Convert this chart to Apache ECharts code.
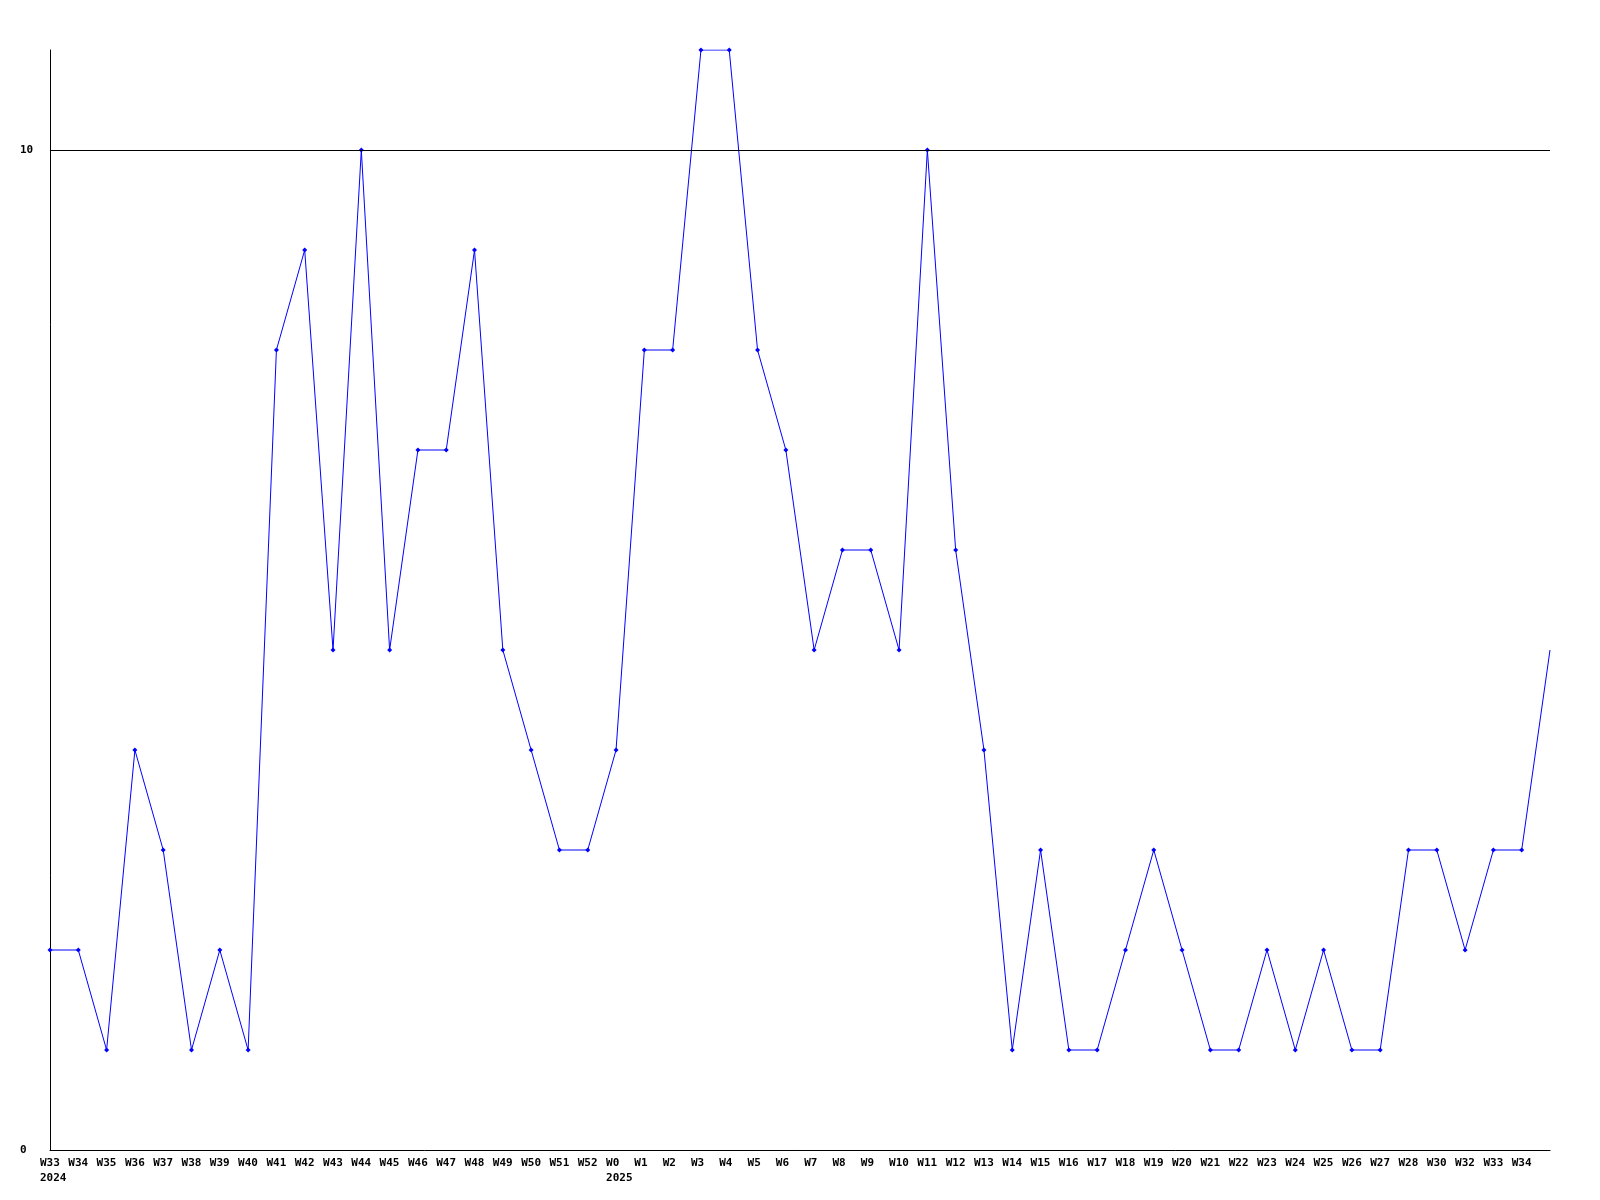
<!DOCTYPE html>
<html>
<head>
<meta charset="utf-8">
<script src="https://cdn.jsdelivr.net/npm/echarts@6/dist/echarts.min.js"></script>
<style>
html,body{margin:0;padding:0;background:#fff;}
#chart{width:1600px;height:1200px;}
</style>
</head>
<body>
<div id="chart"></div>
<script>
const weeks = ["W33","W34","W35","W36","W37","W38","W39","W40","W41","W42","W43","W44","W45","W46","W47","W48","W49","W50","W51","W52",
  "W0","W1","W2","W3","W4","W5","W6","W7","W8","W9","W10","W11","W12","W13","W14","W15","W16","W17","W18","W19","W20","W21","W22","W23","W24","W25","W26","W27","W28",
  "W30","W32","W33","W34",""];
const yearLabels = {0: "2024", 20: "2025"};
const values = [2,2,1,4,3,1,2,1,8,9,5,10,5,7,7,9,5,4,3,3,
  4,8,8,11,11,8,7,5,6,6,5,10,6,4,1,3,1,1,2,3,2,1,1,2,1,2,1,1,3,
  3,2,3,3,5];
const yTickLabels = [0, 10];

const categories = weeks.map((w, i) => yearLabels[i] ? w + "\n" + yearLabels[i] : w);
const seriesData = values.map((v, i) => i === values.length - 1 ? {value: v, symbol: 'none'} : v);

const chart = echarts.init(document.getElementById('chart'), null, {renderer: 'canvas'});
const font = {fontFamily: 'DejaVu Sans Mono', fontWeight: 'bold', fontSize: 11, color: '#000'};
chart.setOption({
  animation: false,
  backgroundColor: '#fff',
  grid: {left: 50, right: 50, top: 50, bottom: 50, containLabel: false},
  xAxis: {
    type: 'category',
    data: categories,
    boundaryGap: false,
    axisLine: {lineStyle: {color: '#000', width: 1}},
    axisTick: {show: false},
    splitLine: {show: false},
    axisLabel: Object.assign({
      interval: 0, margin: 6, align: 'center', verticalAlign: 'top',
      formatter: function (v) {
        return v.split('\n').map(s => '{a|' + s + '}').join('\n');
      },
      rich: {a: Object.assign({width: 20, align: 'left', lineHeight: 15}, font)}
    }, font)
  },
  yAxis: {
    type: 'value',
    min: 0, max: 11,
    axisLine: {show: true, lineStyle: {color: '#000', width: 1}},
    axisTick: {show: false},
    splitLine: {show: false},
    axisLabel: Object.assign({customValues: yTickLabels, margin: 30, align: 'left'}, font)
  },
  series: [{
    type: 'line',
    data: seriesData,
    symbol: 'diamond',
    symbolSize: 5,
    showSymbol: true,
    lineStyle: {color: '#0000ff', width: 1},
    itemStyle: {color: '#0000ff'},
    markLine: {
      silent: true,
      symbol: ['none', 'none'],
      label: {show: false},
      lineStyle: {color: '#000', width: 1, type: 'solid'},
      data: [{yAxis: 10}]
    }
  }]
});
</script>
</body>
</html>
